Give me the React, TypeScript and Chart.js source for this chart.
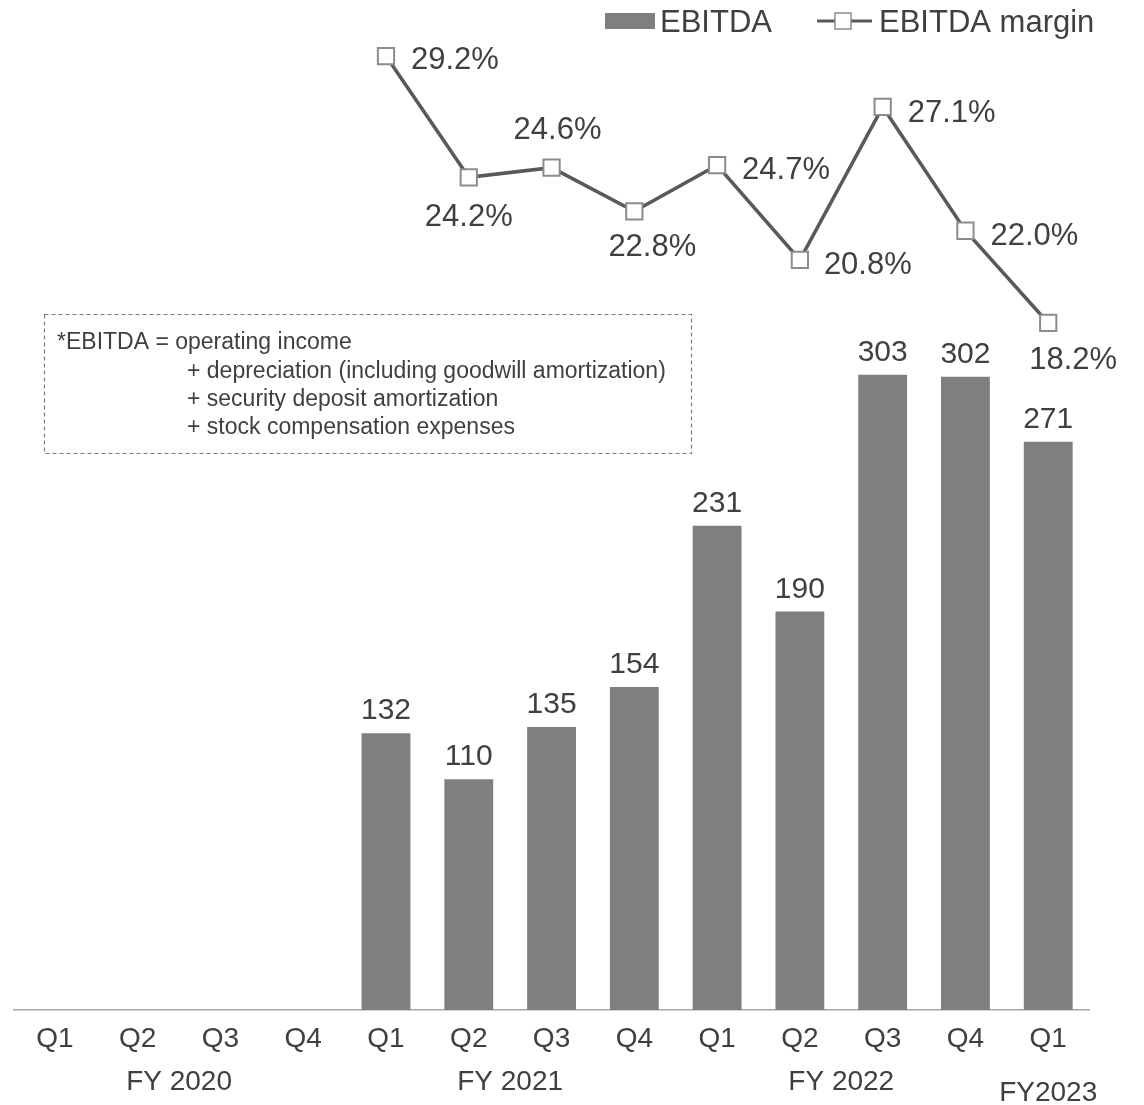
import React, { useEffect, useRef } from 'react';
import { Chart, registerables } from 'chart.js';

Chart.register(...registerables);

// ---- data ----
const quarterLabels = ['Q1', 'Q2', 'Q3', 'Q4', 'Q1', 'Q2', 'Q3', 'Q4', 'Q1', 'Q2', 'Q3', 'Q4', 'Q1'];
const ebitdaValues: (number | null)[] = [null, null, null, null, 132, 110, 135, 154, 231, 190, 303, 302, 271];
const marginValues: (number | null)[] = [null, null, null, null, 29.2, 24.2, 24.6, 22.8, 24.7, 20.8, 27.1, 22.0, 18.2];
const fiscalYearLabels = ['FY 2020', 'FY 2021', 'FY 2022', 'FY2023'];
const fiscalYearFirstIndex = [0, 4, 8, 12];
const fiscalYearLastIndex = [3, 7, 11, 12];
const seriesNames = ['EBITDA', 'EBITDA margin'];
const footnoteLines = [
  '*EBITDA = operating income',
  '+ depreciation (including goodwill amortization)',
  '+ security deposit amortization',
  '+ stock compensation expenses',
];

// ---- styles ----
const FONT = '"Liberation Sans", Arial, Helvetica, sans-serif';
const TEXT = '#404040';
const BAR = '#7f7f7f';
const LINE = '#595959';
const MARKER_BORDER = '#8c8c8c';
// placement of the margin labels: align, dx, dy (cap centre relative to point)
const marginLabelPlacement: ({ align: 'left' | 'center'; dx: number; dy: number } | null)[] = [
  null, null, null, null,
  { align: 'left', dx: 25, dy: 2 },
  { align: 'center', dx: 0, dy: 38 },
  { align: 'center', dx: 6, dy: -40 },
  { align: 'center', dx: 18, dy: 34 },
  { align: 'left', dx: 25, dy: 3 },
  { align: 'left', dx: 24, dy: 3 },
  { align: 'left', dx: 25, dy: 4 },
  { align: 'left', dx: 25, dy: 3 },
  { align: 'center', dx: 25, dy: 35 },
];

const labelsPlugin = {
  id: 'customLabels',
  afterDatasetsDraw(chart: any) {
    const ctx = chart.ctx as CanvasRenderingContext2D;
    ctx.save();
    ctx.fillStyle = TEXT;
    // bar values
    ctx.font = `30px ${FONT}`;
    ctx.textAlign = 'center';
    ctx.textBaseline = 'alphabetic';
    chart.getDatasetMeta(0).data.forEach((el: any, i: number) => {
      const v = ebitdaValues[i];
      if (v == null) return;
      ctx.fillText(String(v), el.x, el.y - 14);
    });
    // margin values
    const pf = 31;
    ctx.font = `${pf}px ${FONT}`;
    chart.getDatasetMeta(1).data.forEach((el: any, i: number) => {
      const v = marginValues[i];
      const p = marginLabelPlacement[i];
      if (v == null || !p) return;
      ctx.textAlign = p.align;
      ctx.fillText(v.toFixed(1) + '%', el.x + p.dx, el.y + p.dy + pf * 0.358);
    });
    ctx.restore();
  },
  afterDraw(chart: any) {
    const ctx = chart.ctx as CanvasRenderingContext2D;
    const xs = chart.scales.x;
    ctx.save();
    ctx.fillStyle = TEXT;
    // fiscal year labels
    ctx.font = `28px ${FONT}`;
    ctx.textAlign = 'center';
    ctx.textBaseline = 'alphabetic';
    fiscalYearLabels.forEach((lab, k) => {
      const a = xs.getPixelForTick(fiscalYearFirstIndex[k]);
      const b = xs.getPixelForTick(fiscalYearLastIndex[k]);
      const cy = k === fiscalYearLabels.length - 1 ? 1091 : 1080;
      ctx.fillText(lab, (a + b) / 2, cy + 28 * 0.358);
    });

    // legend
    const lf = 31;
    ctx.font = `${lf}px ${FONT}`;
    ctx.textAlign = 'left';
    const ly = 21;
    ctx.fillStyle = BAR;
    ctx.fillRect(605, 13, 50, 16);
    ctx.fillStyle = TEXT;
    ctx.fillText(seriesNames[0], 660, ly + lf * 0.358);
    ctx.strokeStyle = LINE;
    ctx.lineWidth = 3;
    ctx.beginPath();
    ctx.moveTo(817, ly);
    ctx.lineTo(872, ly);
    ctx.stroke();
    ctx.fillStyle = '#ffffff';
    ctx.strokeStyle = MARKER_BORDER;
    ctx.lineWidth = 1.5;
    ctx.fillRect(835, ly - 8, 16, 16);
    ctx.strokeRect(835, ly - 8, 16, 16);
    ctx.fillStyle = TEXT;
    ctx.fillText(seriesNames[1], 879, ly + lf * 0.358);

    // footnote box
    ctx.strokeStyle = '#7f7f7f';
    ctx.lineWidth = 1.2;
    ctx.setLineDash([4, 3]);
    ctx.strokeRect(44.5, 314.5, 647, 139);
    ctx.setLineDash([]);
    const ff = 23;
    ctx.font = `${ff}px ${FONT}`;
    ctx.fillStyle = TEXT;
    const lineYs = [341, 370, 398, 426];
    footnoteLines.forEach((t, i) => {
      ctx.fillText(t, i === 0 ? 57 : 187, lineYs[i] + ff * 0.358);
    });
    ctx.restore();
  },
};

export default function App() {
  const ref = useRef<HTMLCanvasElement | null>(null);
  useEffect(() => {
    if (!ref.current) return;
    const chart = new Chart(ref.current, {
      type: 'bar',
      data: {
        labels: quarterLabels,
        datasets: [
          {
            type: 'bar',
            label: seriesNames[0],
            data: ebitdaValues,
            backgroundColor: BAR,
            borderWidth: 0,
            categoryPercentage: 1,
            barPercentage: 0.59,
            yAxisID: 'y',
            order: 1,
          } as any,
          {
            type: 'line',
            label: seriesNames[1],
            data: marginValues,
            borderColor: LINE,
            borderWidth: 3.5,
            pointStyle: 'rect',
            pointRadius: 11.5,
            pointBackgroundColor: '#ffffff',
            pointBorderColor: MARKER_BORDER,
            pointBorderWidth: 2,
            yAxisID: 'y1',
            order: 0,
            tension: 0,
          } as any,
        ],
      },
      options: {
        responsive: false,
        animation: false,
        layout: { padding: { left: 8.4, right: 54.4, top: 40, bottom: 0 } },
        plugins: { legend: { display: false }, tooltip: { enabled: false } },
        scales: {
          x: {
            type: 'category',
            offset: true,
            grid: { display: false, drawTicks: false },
            border: { display: true, color: '#a6a6a6', width: 1.5 },
            ticks: {
              color: TEXT,
              font: { family: FONT, size: 28 },
              padding: 12,
              maxRotation: 0,
              autoSkip: false,
            },
            afterFit: (s: any) => {
              s.height = 95;
            },
          },
          y: { display: false, min: 0, max: 462.6 },
          y1: { display: false, min: -10.11, max: 29.86 },
        },
      },
      plugins: [labelsPlugin],
    } as any);
    return () => chart.destroy();
  }, []);
  return (
    <div style={{ position: 'absolute', left: 0, top: 0, width: 1144, height: 1105, background: '#fff' }}>
      <canvas ref={ref} width={1144} height={1105} style={{ display: 'block' }} />
    </div>
  );
}
